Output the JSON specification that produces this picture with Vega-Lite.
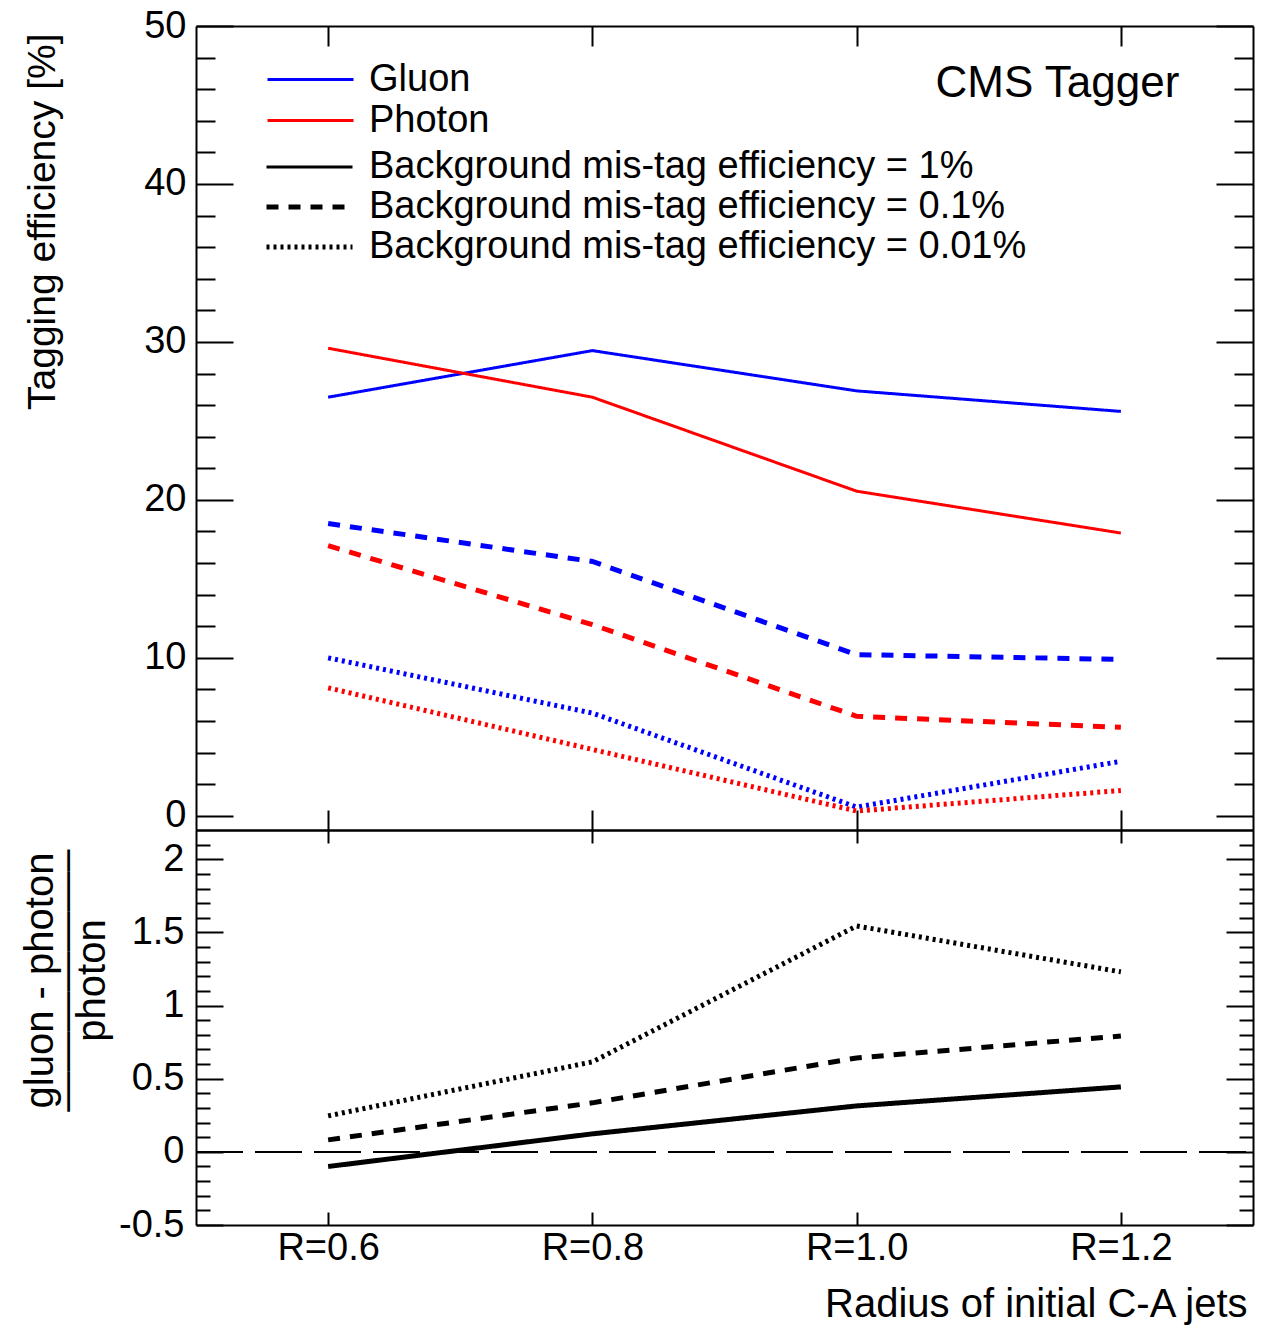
{
  "$schema": "https://vega.github.io/schema/vega-lite/v6.json",
  "background": "white",
  "padding": {"left": 20, "top": 7, "right": 21, "bottom": 5},
  "bounds": "flush",
  "spacing": 0,
  "datasets": {
    "eff": [
      {"R": 0.6, "eff": 26.5, "particle": "Gluon", "bg": "1%"},
      {"R": 0.8, "eff": 29.45, "particle": "Gluon", "bg": "1%"},
      {"R": 1.0, "eff": 26.9, "particle": "Gluon", "bg": "1%"},
      {"R": 1.2, "eff": 25.6, "particle": "Gluon", "bg": "1%"},
      {"R": 0.6, "eff": 29.6, "particle": "Photon", "bg": "1%"},
      {"R": 0.8, "eff": 26.5, "particle": "Photon", "bg": "1%"},
      {"R": 1.0, "eff": 20.55, "particle": "Photon", "bg": "1%"},
      {"R": 1.2, "eff": 17.9, "particle": "Photon", "bg": "1%"},
      {"R": 0.6, "eff": 18.5, "particle": "Gluon", "bg": "0.1%"},
      {"R": 0.8, "eff": 16.1, "particle": "Gluon", "bg": "0.1%"},
      {"R": 1.0, "eff": 10.2, "particle": "Gluon", "bg": "0.1%"},
      {"R": 1.2, "eff": 9.9, "particle": "Gluon", "bg": "0.1%"},
      {"R": 0.6, "eff": 17.1, "particle": "Photon", "bg": "0.1%"},
      {"R": 0.8, "eff": 12.1, "particle": "Photon", "bg": "0.1%"},
      {"R": 1.0, "eff": 6.3, "particle": "Photon", "bg": "0.1%"},
      {"R": 1.2, "eff": 5.6, "particle": "Photon", "bg": "0.1%"},
      {"R": 0.6, "eff": 10.0, "particle": "Gluon", "bg": "0.01%"},
      {"R": 0.8, "eff": 6.5, "particle": "Gluon", "bg": "0.01%"},
      {"R": 1.0, "eff": 0.55, "particle": "Gluon", "bg": "0.01%"},
      {"R": 1.2, "eff": 3.45, "particle": "Gluon", "bg": "0.01%"},
      {"R": 0.6, "eff": 8.1, "particle": "Photon", "bg": "0.01%"},
      {"R": 0.8, "eff": 4.2, "particle": "Photon", "bg": "0.01%"},
      {"R": 1.0, "eff": 0.3, "particle": "Photon", "bg": "0.01%"},
      {"R": 1.2, "eff": 1.6, "particle": "Photon", "bg": "0.01%"}
    ],
    "ratio": [
      {"R": 0.6, "ratio": -0.1, "bg": "1%"},
      {"R": 0.8, "ratio": 0.123, "bg": "1%"},
      {"R": 1.0, "ratio": 0.314, "bg": "1%"},
      {"R": 1.2, "ratio": 0.444, "bg": "1%"},
      {"R": 0.6, "ratio": 0.082, "bg": "0.1%"},
      {"R": 0.8, "ratio": 0.335, "bg": "0.1%"},
      {"R": 1.0, "ratio": 0.642, "bg": "0.1%"},
      {"R": 1.2, "ratio": 0.792, "bg": "0.1%"},
      {"R": 0.6, "ratio": 0.246, "bg": "0.01%"},
      {"R": 0.8, "ratio": 0.615, "bg": "0.01%"},
      {"R": 1.0, "ratio": 1.544, "bg": "0.01%"},
      {"R": 1.2, "ratio": 1.23, "bg": "0.01%"}
    ],
    "note": [{"label": "CMS Tagger"}]
  },
  "vconcat": [
    {
      "width": 1057,
      "height": 804,
      "layer": [
        {
          "data": {"name": "eff"},
          "mark": {"type": "line", "clip": true},
          "encoding": {
            "x": {
              "field": "R", "type": "quantitative",
              "scale": {"domain": [0.5, 1.3], "nice": false, "zero": false},
              "axis": {"orient": "bottom", "values": [0.6, 0.8, 1.0, 1.2], "labels": false, "title": null, "tickSize": -20}
            },
            "y": {
              "field": "eff", "type": "quantitative",
              "scale": {"domain": [-0.9, 50], "nice": false, "zero": false},
              "axis": {
                "orient": "left",
                "values": [0,2,4,6,8,10,12,14,16,18,20,22,24,26,28,30,32,34,36,38,40,42,44,46,48,50],
                "tickSize": {"condition": {"test": "datum.value % 10 === 0", "value": -37}, "value": -19},
                "labelExpr": "datum.value % 10 === 0 ? datum.value + '' : ''",
                "labelPadding": 47,
                "title": "Tagging efficiency [%]",
                "titleFontSize": 39,
                "titleX": -142, "titleY": 7, "titleAlign": "right", "titleAngle": -90, "titleBaseline": "alphabetic"
              }
            },
            "color": {
              "field": "particle", "type": "nominal",
              "scale": {"domain": ["Gluon", "Photon"], "range": ["#0000ff", "#ff0000"]},
              "legend": {
                "orient": "none", "legendX": 70, "legendY": 33, "title": null,
                "symbolType": "stroke", "symbolSize": 7396, "symbolStrokeWidth": 3,
                "clipHeight": 41, "rowPadding": 0, "labelOffset": 14, "labelFontSize": 38,
                "labelColor": "black", "padding": 0, "labelLimit": 1000
              }
            },
            "strokeDash": {
              "field": "bg", "type": "nominal",
              "scale": {"domain": ["1%", "0.1%", "0.01%"], "range": [[1, 0], [12, 10], [3, 4]]},
              "legend": {
                "orient": "none", "legendX": 68, "legendY": 121, "title": null,
                "symbolType": "stroke", "symbolSize": 7396, "symbolStrokeWidth": 4.5, "symbolStrokeColor": "black",
                "clipHeight": 40, "rowPadding": 0, "labelOffset": 14, "labelFontSize": 38,
                "labelColor": "black", "padding": 0, "labelLimit": 1000,
                "labelExpr": "'Background mis-tag efficiency = ' + datum.label"
              }
            },
            "strokeWidth": {
              "field": "bg", "type": "ordinal",
              "scale": {"type": "ordinal", "domain": ["1%", "0.1%", "0.01%"], "range": [3, 5, 5]},
              "legend": null
            }
          }
        },
        {
          "data": {"name": "note"},
          "mark": {"type": "text", "fontSize": 44, "align": "center", "baseline": "alphabetic", "color": "black"},
          "encoding": {
            "text": {"field": "label", "type": "nominal"},
            "x": {
              "datum": 1.152, "type": "quantitative",
              "scale": {"domain": [0.5, 1.3], "nice": false, "zero": false},
              "axis": {"orient": "top", "values": [0.6, 0.8, 1.0, 1.2], "labels": false, "title": null, "tickSize": -20}
            },
            "y": {
              "datum": 45.5, "type": "quantitative",
              "scale": {"domain": [-0.9, 50], "nice": false, "zero": false},
              "axis": {
                "orient": "right",
                "values": [0,2,4,6,8,10,12,14,16,18,20,22,24,26,28,30,32,34,36,38,40,42,44,46,48,50],
                "tickSize": {"condition": {"test": "datum.value % 10 === 0", "value": -37}, "value": -19},
                "labels": false, "title": null
              }
            }
          }
        }
      ],
      "resolve": {"axis": {"x": "independent", "y": "independent"}}
    },
    {
      "width": 1057,
      "height": 395,
      "data": {"name": "ratio"},
      "layer": [
        {
          "mark": {"type": "line", "color": "black", "strokeWidth": 5, "clip": true},
          "encoding": {
            "x": {
              "field": "R", "type": "quantitative",
              "scale": {"domain": [0.5, 1.3], "nice": false, "zero": false},
              "axis": {
                "orient": "bottom", "values": [0.6, 0.8, 1.0, 1.2], "tickSize": -13,
                "labelExpr": "'R=' + format(datum.value, '.1f')", "labelPadding": 17,
                "title": "Radius of initial C-A jets",
                "titleFontSize": 40,
                "titleX": 1051, "titleY": 91, "titleAlign": "right", "titleBaseline": "alphabetic", "titleAngle": 0
              }
            },
            "y": {
              "field": "ratio", "type": "quantitative",
              "scale": {"domain": [-0.5, 2.2], "nice": false, "zero": false},
              "axis": {
                "orient": "left",
                "values": [-0.5,-0.4,-0.3,-0.2,-0.1,0,0.1,0.2,0.3,0.4,0.5,0.6,0.7,0.8,0.9,1,1.1,1.2,1.3,1.4,1.5,1.6,1.7,1.8,1.9,2,2.1],
                "tickSize": {"condition": {"test": "abs(datum.value*2 - round(datum.value*2)) < 0.000001", "value": -27}, "value": -14},
                "labelExpr": "abs(datum.value*2 - round(datum.value*2)) < 0.000001 ? datum.value + '' : ''",
                "labelPadding": 39,
                "title": ["gluon - photon", "——————–", "photon"],
                "titleFontSize": 40,
                "titleX": -144, "titleY": 150, "titleAlign": "center", "titleAngle": -90,
                "titleBaseline": "alphabetic", "titleLineHeight": 26
              }
            },
            "strokeDash": {
              "field": "bg", "type": "nominal",
              "scale": {"domain": ["1%", "0.1%", "0.01%"], "range": [[1, 0], [12, 10], [3, 4]]},
              "legend": null
            }
          }
        },
        {
          "mark": {"type": "rule", "color": "black", "strokeWidth": 1.5, "strokeDash": [47, 12]},
          "encoding": {
            "x": {
              "datum": 0.5, "type": "quantitative",
              "scale": {"domain": [0.5, 1.3], "nice": false, "zero": false},
              "axis": {"orient": "top", "values": [0.6, 0.8, 1.0, 1.2], "labels": false, "title": null, "tickSize": -13}
            },
            "x2": {"datum": 1.3},
            "y": {
              "datum": 0, "type": "quantitative",
              "scale": {"domain": [-0.5, 2.2], "nice": false, "zero": false},
              "axis": {
                "orient": "right",
                "values": [-0.5,-0.4,-0.3,-0.2,-0.1,0,0.1,0.2,0.3,0.4,0.5,0.6,0.7,0.8,0.9,1,1.1,1.2,1.3,1.4,1.5,1.6,1.7,1.8,1.9,2,2.1],
                "tickSize": {"condition": {"test": "abs(datum.value*2 - round(datum.value*2)) < 0.000001", "value": -27}, "value": -14},
                "labels": false, "title": null
              }
            }
          }
        }
      ],
      "resolve": {"axis": {"x": "independent", "y": "independent"}}
    }
  ],
  "resolve": {
    "scale": {"strokeDash": "independent", "strokeWidth": "independent", "color": "independent"},
    "legend": {"strokeDash": "independent", "strokeWidth": "independent", "color": "independent"}
  },
  "config": {
    "font": "Liberation Sans",
    "view": {"stroke": null},
    "axis": {
      "grid": false,
      "domainColor": "black", "domainWidth": 2,
      "tickColor": "black", "tickWidth": 2,
      "labelFont": "Liberation Sans", "labelFontSize": 38, "labelColor": "black",
      "labelOverlap": false, "labelFlush": false, "labelBound": false,
      "titleFont": "Liberation Sans", "titleFontSize": 38, "titleColor": "black", "titleFontWeight": "normal"
    },
    "legend": {"labelFont": "Liberation Sans"},
    "text": {"font": "Liberation Sans"}
  }
}
